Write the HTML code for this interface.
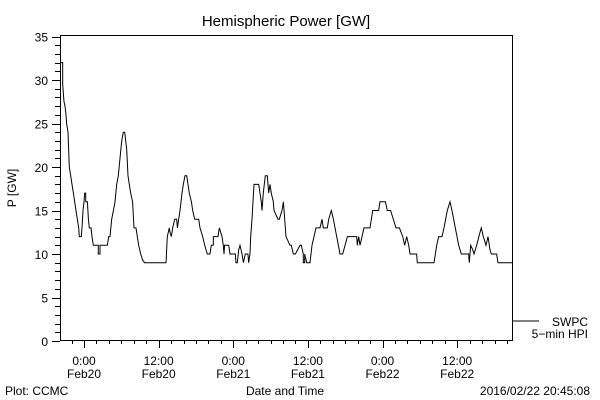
<!DOCTYPE html>
<html><head><meta charset="utf-8"><style>
html,body{margin:0;padding:0;background:#fff}
svg{display:block;font-family:"Liberation Sans",sans-serif}
</style></head><body>
<svg id="chart" width="600" height="400" viewBox="0 0 600 400">
<rect x="0" y="0" width="600" height="400" fill="#fff"/>
<text x="286" y="26" font-size="15" text-anchor="middle">Hemispheric Power [GW]</text>
<text x="16" y="188" font-size="12" text-anchor="middle" transform="rotate(-90 16 188)">P [GW]</text>
<text x="285" y="395" font-size="12" text-anchor="middle">Date and Time</text>
<text x="5" y="395" font-size="12">Plot: CCMC</text>
<text x="590" y="395" font-size="12" text-anchor="end">2016/02/22 20:45:08</text>
<g id="axes"></g>
<g id="series"></g>
<line x1="513" y1="321" x2="539" y2="321" stroke="#000"/>
<text x="588" y="326" font-size="12" text-anchor="end">SWPC</text>
<text x="588" y="338" font-size="12" text-anchor="end">5−min HPI</text>
<rect x="60.5" y="35.5" width="452" height="305" fill="none" stroke="#000"/>
</svg>
<script>
// hours since Feb20 00:00
const hours = [-3.70,-3.43,-3.43,-3.22,-3.05,-2.89,-2.79,-2.57,-2.36,-2.14,-1.93,-1.71,-1.50,-1.29,-1.07,-0.86,-0.75,-0.43,-0.32,-0.16,0,0.11,0.27,0.27,0.54,0.70,0.86,1.13,1.29,1.50,2.30,2.30,2.57,2.57,3.75,3.97,4.18,4.45,4.72,4.98,5.25,5.52,5.79,6.06,6.32,6.54,6.86,7.07,7.29,7.50,7.82,8.04,8.36,8.57,8.79,9.11,9.43,9.75,13.18,13.40,13.72,13.83,14.04,14.26,14.58,14.90,15.01,15.22,15.43,15.76,15.97,16.24,16.51,16.72,16.93,17.26,17.47,17.79,18.44,18.65,19.08,19.40,19.83,20.26,20.47,20.79,20.79,21.54,21.76,21.97,22.19,22.40,22.51,22.61,23.26,23.47,24.33,24.44,24.65,24.87,25.08,25.40,25.62,25.94,26.37,26.47,26.69,26.80,27.01,27.33,28.08,28.30,28.51,28.62,28.83,29.15,29.47,29.69,29.90,30.12,30.44,30.55,31.19,31.40,31.83,32.05,32.26,32.48,33.12,33.33,33.65,33.98,34.73,34.94,35.26,35.26,35.48,35.48,35.80,36.33,36.66,36.98,37.30,37.94,38.26,38.48,39.12,39.34,39.76,40.09,40.62,41.16,41.59,42.34,43.84,43.94,44.16,44.37,44.69,45.02,45.98,46.41,47.37,47.59,48.45,48.77,49.30,50.16,50.70,51.23,51.56,51.88,52.20,52.41,53.48,53.59,56.27,56.70,57.02,57.56,57.88,58.41,58.84,59.16,59.70,60.24,60.66,61.84,61.95,62.17,62.49,62.70,63.13,63.67,63.88,64.20,64.63,64.95,65.27,65.49,66.34,66.56,68.81];
const power = [32,32,29.5,27.5,27,26,25,24,20,19,18,17,16,15,14,13,12,12,13,15,16,17,17,16,16,14,13,13,12,11,11,10,10,11,11,12,12,14,15,16,18,19,21,23,24,24,22,19,18,17,16,13,13,12,11,10,9.3,9,9,12,13,12.5,12,13,14,14,13,14,15,17,18,19,19,18,17,16,15,14,14,13,12,11,10,10,11,11,12,12,13,12.5,12,11,10,11,11,10,10,9,9,10.5,11,10,9,10,10,9,10,12,14,18,18,17,16,15,17,19,19,17,18,17,16,15,14,14,15,16,14,12,11,11,10,10,11,11,10,9,9,10,9,9,11,12,13,13,14,13,13,14,15,14,12,10,10,12,12,11,12,11,12,13,13,15,15,16,16,15,15,13,13,12,11,12,11,10,10,9,9,11,12,12,13,15,16,15,13,11,10,10,9,11,10.5,10,11,12.5,13,12,11,12,10.5,10,10,9,9];
const yTickLabels = ["0","5","10","15","20","25","30","35"];
const yTickValues = [0,5,10,15,20,25,30,35];
const xTickHours = [0,12,24,36,48,60];
const xTickTimes = ["0:00","12:00","0:00","12:00","0:00","12:00"];
const xTickDates = ["Feb20","Feb20","Feb21","Feb21","Feb22","Feb22"];

const NS="http://www.w3.org/2000/svg";
const X0=84, PXH=6.22, Y0=341, PXV=8.7;
function xs(h){return X0+h*PXH;}
function ys(v){return Y0-v*PXV;}
const axes=document.getElementById('axes');
const series=document.getElementById('series');
function ln(x1,y1,x2,y2,name){
  const l=document.createElementNS(NS,'line');
  l.setAttribute('x1',x1);l.setAttribute('y1',y1);l.setAttribute('x2',x2);l.setAttribute('y2',y2);
  l.setAttribute('stroke','#000');
  
  
  axes.appendChild(l);
}
for(let v=0;v<=35;v++){
  const y=Math.round(ys(v))+0.5;
  ln(v%5===0?52:55,y,60,y,'y-tick');
}
yTickValues.forEach((v,i)=>{
  const t=document.createElementNS(NS,'text');
  t.setAttribute('x',48);t.setAttribute('y',ys(v)+5);
  t.setAttribute('font-size','12');t.setAttribute('text-anchor','end');
  t.textContent=yTickLabels[i];
  
  
  axes.appendChild(t);
});
for(let h=-2;h<=68;h+=2){
  const x=Math.round(xs(h))+0.5;
  ln(x,341,x,h%12===0?348:344,'x-tick');
}
xTickHours.forEach((h,i)=>{
  const t=document.createElementNS(NS,'text');
  t.setAttribute('x',xs(h));t.setAttribute('y',365);
  t.setAttribute('font-size','12');t.setAttribute('text-anchor','middle');
  t.textContent=xTickTimes[i];
  
  
  axes.appendChild(t);
  const d=document.createElementNS(NS,'text');
  d.setAttribute('x',xs(h));d.setAttribute('y',378);
  d.setAttribute('font-size','12');d.setAttribute('text-anchor','middle');
  d.textContent=xTickDates[i];
  
  
  axes.appendChild(d);
});
const pts=hours.map((h,i)=>xs(h).toFixed(1)+','+ys(power[i]).toFixed(1)).join(' ');
const pl=document.createElementNS(NS,'polyline');
pl.setAttribute('points',pts);
pl.setAttribute('fill','none');pl.setAttribute('stroke','#000');pl.setAttribute('stroke-width','1');


series.appendChild(pl);
</script>
</body></html>
